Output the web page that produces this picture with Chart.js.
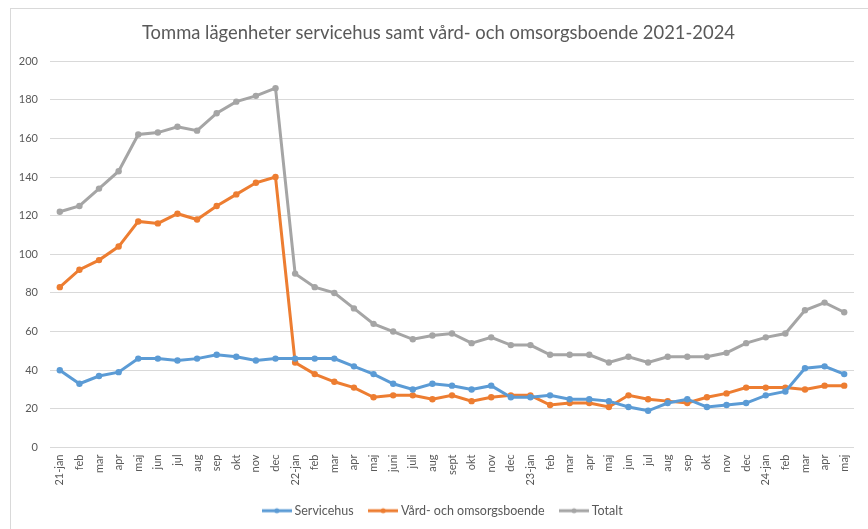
<!DOCTYPE html>
<html>
<head>
<meta charset="utf-8">
<script src="https://cdn.jsdelivr.net/npm/chart.js"></script>
<style>
    html, body { margin: 0; padding: 0; background: #fff; overflow: hidden; }
    #wrap { position: relative; width: 868px; height: 529px; }
    #frame { position: absolute; left: 10px; top: 8px; width: 900px; height: 560px; border: 1px solid #d9d9d9; box-sizing: border-box; }
    canvas { position: absolute; left: 0; top: 0; }
</style>
</head>
<body>
<div id="wrap">
    <div id="frame"></div>
    <canvas id="chart" width="868" height="529"></canvas>
</div>
<script>
// Month labels, one per observation (Jan 2021 - May 2024)
const months = [
    '21-jan', 'feb', 'mar', 'apr', 'maj', 'jun', 'jul', 'aug', 'sep', 'okt', 'nov', 'dec',
    '22-jan', 'feb', 'mar', 'apr', 'maj', 'juni', 'juli', 'aug', 'sept', 'okt', 'nov', 'dec',
    '23-jan', 'feb', 'mar', 'apr', 'maj', 'jun', 'jul', 'aug', 'sep', 'okt', 'nov', 'dec',
    '24-jan', 'feb', 'mar', 'apr', 'maj'
];

const servicehus = [
    40, 33, 37, 39, 46, 46, 45, 46, 48, 47, 45, 46,
    46, 46, 46, 42, 38, 33, 30, 33, 32, 30, 32, 26,
    26, 27, 25, 25, 24, 21, 19, 23, 25, 21, 22, 23,
    27, 29, 41, 42, 38
];

const vardOmsorg = [
    83, 92, 97, 104, 117, 116, 121, 118, 125, 131, 137, 140,
    44, 38, 34, 31, 26, 27, 27, 25, 27, 24, 26, 27,
    27, 22, 23, 23, 21, 27, 25, 24, 23, 26, 28, 31,
    31, 31, 30, 32, 32
];

const totalt = [
    122, 125, 134, 143, 162, 163, 166, 164, 173, 179, 182, 186,
    90, 83, 80, 72, 64, 60, 56, 58, 59, 54, 57, 53,
    53, 48, 48, 48, 44, 47, 44, 47, 47, 47, 49, 54,
    57, 59, 71, 75, 70
];

const yTicks = [0, 20, 40, 60, 80, 100, 120, 140, 160, 180, 200];

const FONT = "Lato, 'Open Sans', sans-serif";
const TEXT = '#595959';
const GRID = '#d9d9d9';

// Excel-style legend marker: short line with a dot in the middle
function legendMarker(color) {
    const c = document.createElement('canvas');
    c.width = 30; c.height = 8;
    const g = c.getContext('2d');
    g.strokeStyle = color;
    g.lineWidth = 3;
    g.beginPath(); g.moveTo(0, 4); g.lineTo(30, 4); g.stroke();
    g.fillStyle = color;
    g.beginPath(); g.arc(15, 4, 2.5, 0, Math.PI * 2); g.fill();
    return c;
}

function series(label, data, color) {
    return {
        label: label,
        data: data,
        borderColor: color,
        backgroundColor: color,
        borderWidth: 3,
        pointRadius: 3.2,
        pointBorderWidth: 0,
        pointBackgroundColor: color,
        tension: 0,
        fill: false,
        marker: legendMarker(color)
    };
}

// Excel centres title and legend on the whole frame, not on the plot width
const centreOnFrame = {
    id: 'centreOnFrame',
    afterLayout(chart) {
        const t = chart.titleBlock, l = chart.legend;
        if (t) { t.left += 11.5; t.right += 11.5; }
        if (l) { l.left += 17; l.right += 17; }
    }
};

new Chart(document.getElementById('chart'), {
    type: 'line',
    data: {
        labels: months,
        datasets: [
            series('Servicehus', servicehus, '#5b9bd5'),
            series('Vård- och omsorgsboende', vardOmsorg, '#ed7d31'),
            series('Totalt', totalt, '#a5a5a5')
        ]
    },
    plugins: [centreOnFrame],
    options: {
        responsive: false,
        animation: false,
        layout: { padding: { left: 0, right: 14, top: 0, bottom: 2 } },
        scales: {
            x: {
                offset: true,
                grid: { display: false, drawTicks: false },
                border: { display: false },
                ticks: {
                    color: TEXT,
                    font: { family: FONT, size: 11 },
                    minRotation: 90,
                    maxRotation: 90,
                    autoSkip: false,
                    padding: 7
                },
                afterFit: (s) => { s.height = 39; }
            },
            y: {
                min: 0,
                max: 200,
                afterBuildTicks: (s) => { s.ticks = yTicks.map(v => ({ value: v })); },
                grid: { color: GRID, lineWidth: 1, drawTicks: false },
                border: { display: false },
                ticks: {
                    color: TEXT,
                    font: { family: FONT, size: 11 },
                    padding: 12
                },
                afterFit: (s) => { s.width = 50; }
            }
        },
        plugins: {
            title: {
                display: true,
                text: 'Tomma lägenheter servicehus samt vård- och omsorgsboende 2021-2024',
                color: TEXT,
                font: { family: FONT, size: 18.4, weight: 'normal' },
                padding: { top: 22, bottom: 17 }
            },
            legend: {
                position: 'bottom',
                labels: {
                    color: TEXT,
                    font: { family: FONT, size: 12.5 },
                    usePointStyle: true,
                    pointStyleWidth: 23,
                    padding: 18,
                    generateLabels: (chart) => chart.data.datasets.map((ds, i) => ({
                        text: ds.label,
                        pointStyle: ds.marker,
                        fillStyle: ds.borderColor,
                        strokeStyle: ds.borderColor,
                        fontColor: TEXT,
                        lineWidth: 0,
                        hidden: false,
                        datasetIndex: i
                    }))
                }
            },
            tooltip: { enabled: false }
        }
    }
});
</script>
</body>
</html>
